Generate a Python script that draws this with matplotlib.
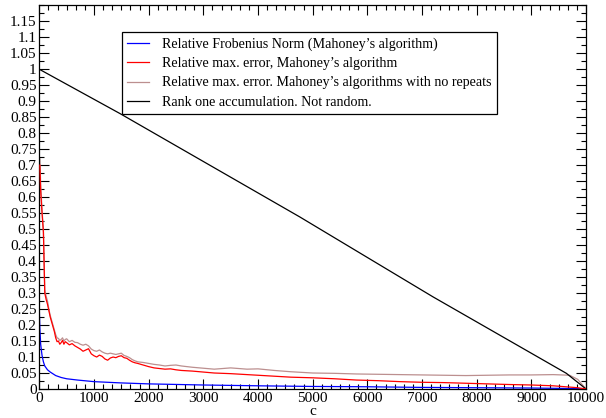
import matplotlib.pyplot as plt
from matplotlib.ticker import MultipleLocator

# values
c_blue = [0, 10, 25, 50, 75, 100, 150, 200, 300, 400, 500, 700, 1000, 1500,
          2000, 3000, 4000, 5000, 6000, 7000, 8000, 9000, 10000]
frob = [0.25, 0.19, 0.14, 0.105, 0.085, 0.072, 0.06, 0.053, 0.042, 0.036,
        0.032, 0.028, 0.023, 0.019, 0.016, 0.0125, 0.01, 0.008, 0.007, 0.005,
        0.004, 0.003, 0.001]

c_err = [10, 25, 50, 75, 100, 125, 150, 175, 200, 225, 250, 275, 300, 325,
         350, 375, 400, 425, 450, 475, 500, 550, 600, 650, 700, 750, 800, 850,
         900, 950, 1000, 1050, 1100, 1150, 1200, 1250, 1300, 1350, 1400, 1450,
         1500, 1550, 1600, 1650, 1700, 1750, 1800, 1900, 2000, 2100, 2200,
         2300, 2400, 2500, 2600, 2800, 3000, 3200, 3500, 3800, 4000, 4300,
         4600, 5000, 5400, 5800, 6200, 6600, 7000, 7400, 7800, 8200, 8600,
         9000, 9400, 9700, 9850, 10000]
max_err = [0.70, 0.62, 0.55, 0.49, 0.30, 0.28, 0.265, 0.245, 0.225, 0.21,
           0.195, 0.18, 0.16, 0.148, 0.15, 0.14, 0.145, 0.152, 0.14, 0.148,
           0.145, 0.138, 0.142, 0.135, 0.13, 0.125, 0.118, 0.122, 0.126, 0.11,
           0.104, 0.10, 0.106, 0.102, 0.094, 0.09, 0.097, 0.10, 0.098, 0.102,
           0.104, 0.098, 0.096, 0.09, 0.085, 0.082, 0.08, 0.075, 0.07, 0.066,
           0.064, 0.062, 0.063, 0.06, 0.058, 0.056, 0.053, 0.05, 0.048, 0.045,
           0.043, 0.04, 0.037, 0.035, 0.032, 0.028, 0.026, 0.023, 0.021, 0.02,
           0.018, 0.016, 0.014, 0.0125, 0.01, 0.006, 0.004, 0.0]
max_err_norep = [0.72, 0.64, 0.56, 0.50, 0.31, 0.29, 0.275, 0.25, 0.23,
                 0.215, 0.20, 0.185, 0.17, 0.16, 0.158, 0.152, 0.155, 0.16,
                 0.15, 0.155, 0.157, 0.148, 0.152, 0.146, 0.145, 0.14, 0.137,
                 0.14, 0.135, 0.125, 0.12, 0.118, 0.122, 0.116, 0.112, 0.11,
                 0.112, 0.11, 0.108, 0.11, 0.112, 0.105, 0.102, 0.098, 0.092,
                 0.088, 0.085, 0.083, 0.08, 0.077, 0.075, 0.072, 0.074, 0.075,
                 0.072, 0.068, 0.065, 0.062, 0.066, 0.062, 0.063, 0.058, 0.054,
                 0.05, 0.049, 0.047, 0.046, 0.045, 0.044, 0.043, 0.042, 0.043,
                 0.044, 0.044, 0.045, 0.043, 0.03, 0.0]

c_rank = [0, 1475, 4766, 7203, 9641, 10000]
rank_one = [1.0, 0.8615, 0.538, 0.288, 0.049, 0.0]

labels = ["Relative Frobenius Norm (Mahoney\u2019s algorithm)",
          "Relative max. error, Mahoney\u2019s algorithm",
          "Relative max. error. Mahoney\u2019s algorithms with no repeats",
          "Rank one accumulation. Not random."]

plt.rcParams['font.family'] = ['Liberation Serif', 'DejaVu Serif']
plt.rcParams['font.size'] = 11

fig = plt.figure(figsize=(6.06, 4.18), dpi=100)
ax = fig.add_axes([39.3 / 606, 1 - 389 / 418, (586 - 39.3) / 606, (389 - 5.3) / 418])

ax.plot(c_blue, frob, color="#0000ff", lw=0.9, label=labels[0])
ax.plot(c_err, max_err, color="#ff0000", lw=0.9, label=labels[1], zorder=3)
ax.plot(c_err, max_err_norep, color="#bc8f8f", lw=0.9, label=labels[2])
ax.plot(c_rank, rank_one, color="black", lw=0.9, label=labels[3])

ax.set_xlim(0, 10000)
ax.set_ylim(0, 1.2)
ax.set_xticks(range(0, 10001, 1000))
ax.set_yticks([i * 0.05 for i in range(24)])
ax.set_yticklabels([f"{i * 0.05:g}" for i in range(24)])
ax.xaxis.set_minor_locator(MultipleLocator(1000 / 6))
ax.yaxis.set_minor_locator(MultipleLocator(0.025))
ax.tick_params(which="both", direction="in", top=True, right=True, width=0.8)
ax.tick_params(which="major", length=7.5, pad=2)
ax.tick_params(which="minor", length=3.6)
for s in ax.spines.values():
    s.set_linewidth(0.9)

ax.set_xlabel("c", labelpad=0)

leg = ax.legend(loc="upper left", bbox_to_anchor=(0.151, 0.93), borderaxespad=0,
                fancybox=False, edgecolor="black", framealpha=1,
                handlelength=1.6, handletextpad=0.9, labelspacing=0.45,
                borderpad=0.37, fontsize=10.1)
leg.get_frame().set_linewidth(0.9)

fig.savefig("out.png", dpi=100)
